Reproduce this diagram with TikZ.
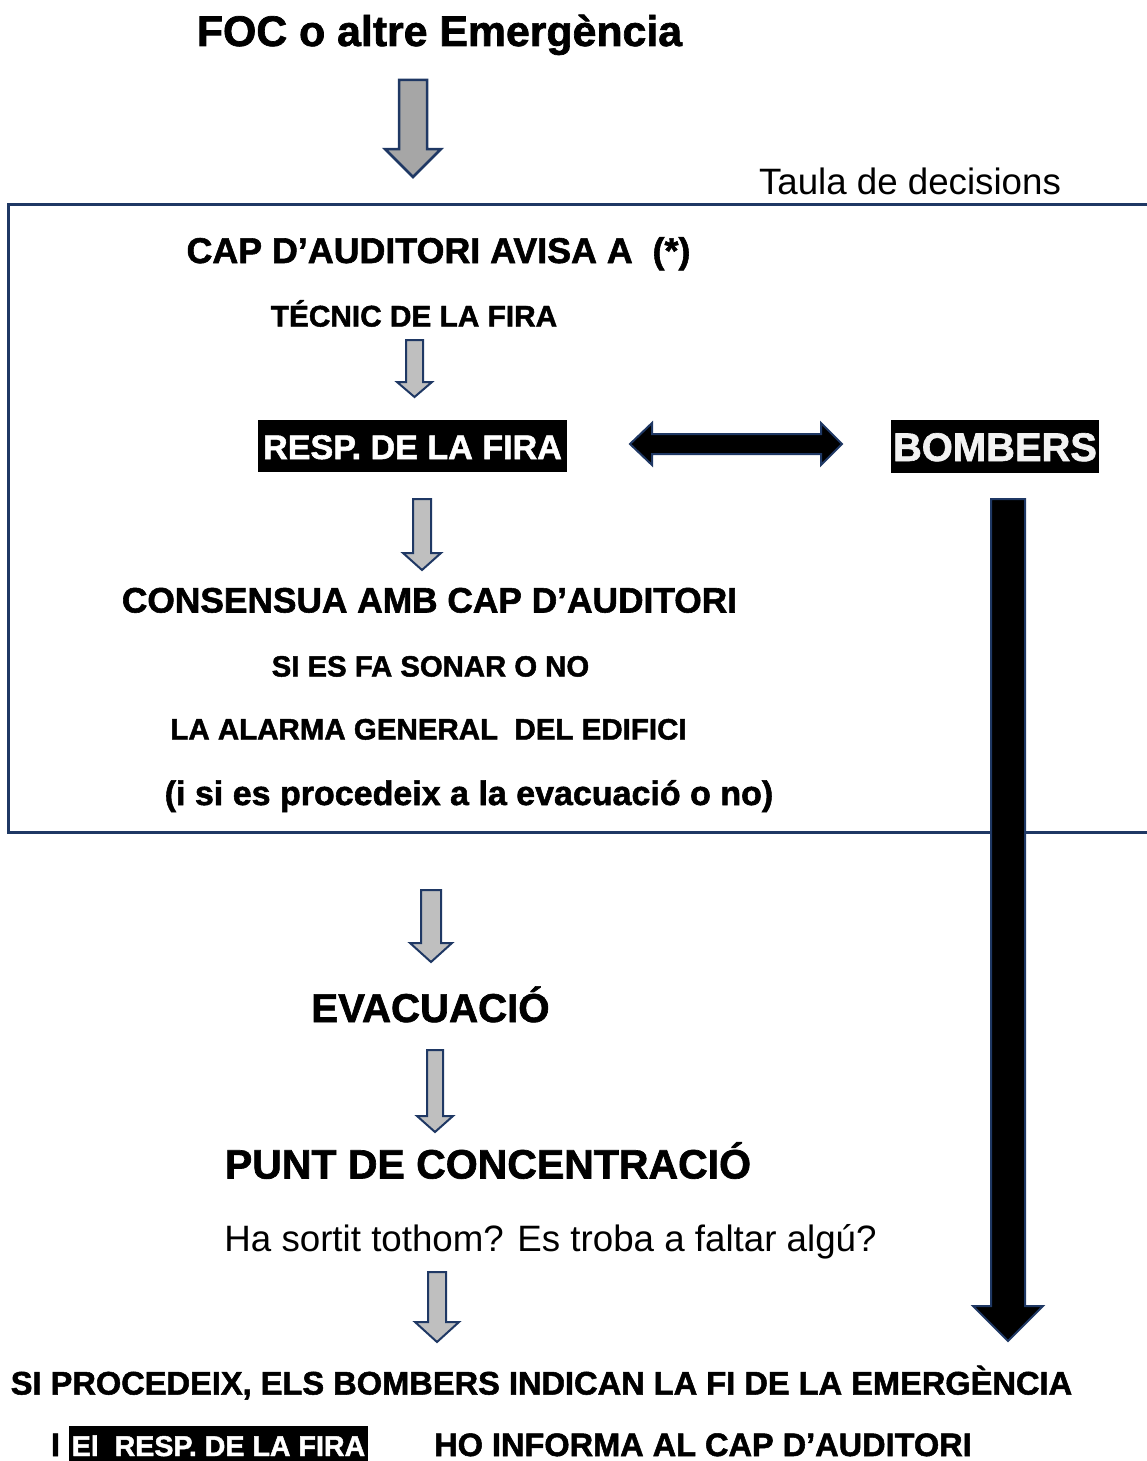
\documentclass[tikz,border=0pt]{standalone}
\usepackage{fontspec}
\setmainfont{Liberation Sans}[BoldFeatures={FakeBold=1.6}]
\usetikzlibrary{calc}
\definecolor{navy}{HTML}{1F3864}
\definecolor{gdark}{HTML}{A6A6A6}
\definecolor{glight}{HTML}{BFBFBF}
\definecolor{offwhite}{HTML}{F2F2F2}
\newcommand{\fsz}[1]{\fontsize{#1}{#1}\selectfont}
\tikzset{
  pics/blockdown/.style args={#1/#2/#3/#4}{code={
    \path[pic actions] ({-#2/2},0) -- ({#2/2},0) -- ({#2/2},{#1-#4}) -- ({#3/2},{#1-#4}) -- (0,#1) -- ({-#3/2},{#1-#4}) -- ({-#2/2},{#1-#4}) -- cycle;
    \coordinate (-tip) at (0,#1);
    \coordinate (-tail) at (0,0);
  }},
  lbl/.style={anchor=base, inner sep=0pt},
  blackbox/.style={fill=black, inner xsep=0pt, inner ysep=0pt, anchor=base},
  grayarrow/.style={draw=navy, fill=glight, line width=2pt, line join=miter},
  blackarrow/.style={draw=navy, fill=black, line width=2pt, line join=miter},
}
\begin{document}
\begin{tikzpicture}[x=1pt,y=-1pt]
\useasboundingbox (0,0) rectangle (1146,1461);

% decision box
\draw[navy, line width=3pt] (8.5,204.5) rectangle (1175,832);

% texts
\node[lbl, font={\fsz{42.8}\bfseries}] (foc) at (439.5,46) {FOC o altre Emergència};
\node[lbl, font={\fsz{36.7}}] (taula) at (910,194) {Taula de decisions};
\node[lbl, font={\fsz{35.8}\bfseries}] (cap) at (438.5,263) {CAP D’AUDITORI AVISA A\ \ (*)};
\node[lbl, font={\fsz{29.8}\bfseries}] (tecnic) at (414,326.5) {TÉCNIC DE LA FIRA};
\node[blackbox, text=white, font={\fsz{34.1}\bfseries}, minimum width=309pt, text height=39pt, text depth=13pt] (resp) at (412.5,459) {RESP. DE LA FIRA};
\node[blackbox, text=offwhite, font={\fsz{39.9}\bfseries}, minimum width=208pt, text height=41pt, text depth=12pt] (bomb) at (995,461) {BOMBERS};
\node[lbl, font={\fsz{35.3}\bfseries}] (cons) at (429.5,612.5) {CONSENSUA AMB CAP D’AUDITORI};
\node[lbl, font={\fsz{29.3}\bfseries}] (sies) at (430.5,676.5) {SI ES FA SONAR O NO};
\node[lbl, font={\fsz{29.5}\bfseries}] (alarma) at (428.5,739.5) {LA ALARMA GENERAL\ \ DEL EDIFICI};
\node[lbl, font={\fsz{34}\bfseries}] (proc) at (469,805) {(i si es procedeix a la evacuació o no)};
\node[lbl, font={\fsz{40.2}\bfseries}] (evac) at (430.5,1022) {EVACUACIÓ};
\node[lbl, font={\fsz{41}\bfseries}] (punt) at (488,1178.5) {PUNT DE CONCENTRACIÓ};
\node[lbl, font={\fsz{36.7}}] (ha) at (550.5,1251) {Ha sortit tothom? Es troba a faltar algú?};
\node[lbl, font={\fsz{32.6}\bfseries}] (fi) at (541.5,1394.5) {SI PROCEDEIX, ELS BOMBERS INDICAN LA FI DE LA EMERGÈNCIA};
\node[lbl, font={\fsz{32.5}\bfseries}] (lastI) at (55.5,1456) {I};
\node[blackbox, text=white, font={\fsz{28.6}\bfseries}, minimum width=299pt, text height=30pt, text depth=14pt] (lastbox) at (218.5,1456) {El\ \ RESP. DE LA FIRA};
\node[lbl, font={\fsz{32.5}\bfseries}] (lastrest) at (703,1456) {HO INFORMA AL CAP D’AUDITORI};

% block arrows
\pic[draw=navy, fill=gdark, line width=2.5pt, line join=miter] (a1) at (413,80) {blockdown={97/28/56/28}};
\pic[grayarrow] (a2) at (414.5,340) {blockdown={57/17/35/15}};
\pic[grayarrow] (a3) at (422,499) {blockdown={71/18/38/17}};
\pic[grayarrow] (a4) at (431,890) {blockdown={72/20/42/19}};
\pic[grayarrow] (a5) at (435,1050) {blockdown={82/16/36/16}};
\pic[grayarrow] (a6) at (437,1272) {blockdown={70/18/44/20}};

% double arrow between RESP and BOMBERS
\coordinate (dl) at (630,444);
\coordinate (dr) at (842,444);
\path[blackarrow] (dl) -- ++(22,-21) -- ++(0,11) -- ($(dr)+(-21,-10)$) -- ++(0,-11) -- (dr) -- ++(-21,21) -- ++(0,-11) -- ($(dl)+(22,10)$) -- ++(0,11) -- cycle;

% big black arrow from BOMBERS
\pic[blackarrow] (big) at (1008,499) {blockdown={842/34/70/35}};
\end{tikzpicture}
\end{document}
